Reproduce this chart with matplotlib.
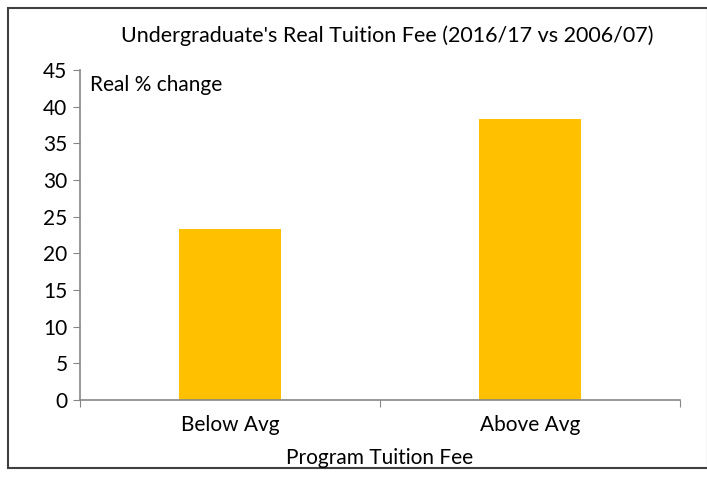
import matplotlib
matplotlib.use("Agg")
import matplotlib.pyplot as plt
from matplotlib.patches import Rectangle

categories = ["Below Avg", "Above Avg"]
values = [23.3, 38.3]
yticks = [0, 5, 10, 15, 20, 25, 30, 35, 40, 45]

plt.rcParams['font.family'] = ['Lato', 'DejaVu Sans']
FS = 15

fig = plt.figure(figsize=(7.07, 4.78), dpi=100)
W, H = 707, 478
ax = fig.add_axes([80 / W, 1 - 400 / H, 600 / W, 330 / H])

x = range(len(categories))
ax.bar(x, values, width=0.34, color='#FFC000')

ax.set_xlim(-0.5, 1.5)
ax.set_ylim(0, 45)
ax.set_yticks(yticks)
ax.set_xticks([-0.5, 0.5, 1.5], minor=False)
ax.set_xticklabels([])
ax.set_xticks(list(x), minor=True)
ax.set_xticklabels(categories, minor=True, fontsize=FS)
ax.tick_params(axis='x', which='minor', length=0, pad=11)
ax.tick_params(axis='x', which='major', length=5, color='#868686', direction='out')
ax.tick_params(axis='y', length=5, color='#868686', labelsize=FS, pad=4)

for s in ['top', 'right']:
    ax.spines[s].set_visible(False)
for s in ['left', 'bottom']:
    ax.spines[s].set_color('#868686')
    ax.spines[s].set_linewidth(1.2)

ax.text(0.017, 0.955, "Real % change", transform=ax.transAxes, fontsize=FS,
        ha='left', va='center')

fig.text(387 / W, 1 - 36 / H, "Undergraduate's Real Tuition Fee (2016/17 vs 2006/07)",
         fontsize=FS + 0.5, ha='center', va='center')
fig.text(380 / W, 1 - 458 / H, "Program Tuition Fee", fontsize=FS,
         ha='center', va='center')

# chart border
fig.patches.append(Rectangle((8 / W, 1 - 468 / H), 700 / W, 460 / H,
                             transform=fig.transFigure, fill=False,
                             edgecolor='#404040', linewidth=1.5))

fig.savefig("out.png", dpi=100)
